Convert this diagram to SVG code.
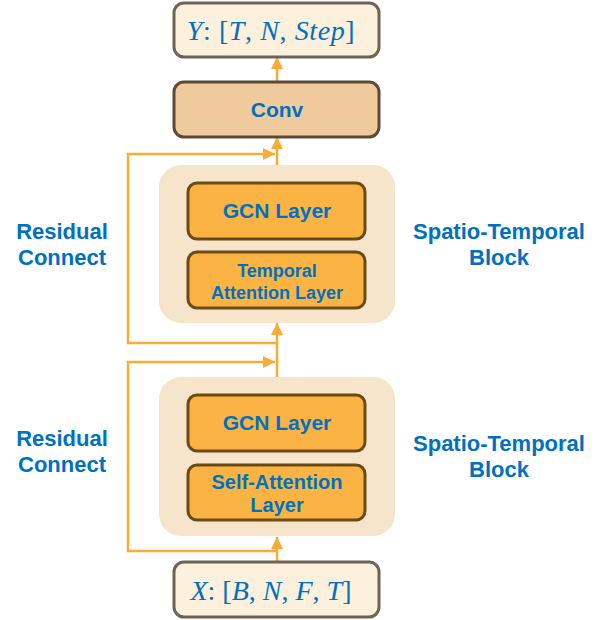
<svg xmlns="http://www.w3.org/2000/svg" width="604" height="620" viewBox="0 0 604 620">
<style>
.io{fill:#fdf0dc;stroke:#6e6456;stroke-width:3}
.conv{fill:#efca9c;stroke:#5d4a35;stroke-width:3}
.blk{fill:#f6e4cb;stroke:none}
.inner{fill:#fbb443;stroke:#6b4a16;stroke-width:3}
.lbl{font-family:"Liberation Sans",Arial,sans-serif;font-weight:bold;fill:#0070c0;text-anchor:middle}
.math{font-family:"Liberation Serif","Times New Roman",serif;fill:#0070c0;font-size:28px;text-anchor:middle}
.math .i{font-style:italic}
.con{fill:none;stroke:#f9ab36;stroke-width:2.5}
</style>
<defs>
<marker id="ah" markerUnits="userSpaceOnUse" markerWidth="12" markerHeight="12" viewBox="0 0 12 12" refX="12" refY="6" orient="auto">
<path d="M0,0 L12,6 L0,12 Z" fill="#f9ab36"/>
</marker>
</defs>
<g id="connectors">
<line class="con" x1="277" y1="562" x2="277" y2="537" marker-end="url(#ah)"/>
<polyline class="con" points="277,551 128,551 128,362 275,362" marker-end="url(#ah)"/>
<line class="con" x1="277" y1="377" x2="277" y2="323" marker-end="url(#ah)"/>
<polyline class="con" points="277,343 128,343 128,154 275,154" marker-end="url(#ah)"/>
<line class="con" x1="277" y1="165" x2="277" y2="137" marker-end="url(#ah)"/>
<line class="con" x1="277" y1="82" x2="277" y2="57" marker-end="url(#ah)"/>
</g>
<g id="output">
<rect class="io" x="174" y="3" width="205" height="54" rx="10"/>
<text class="math" x="271" y="40" letter-spacing="0.6"><tspan class="i">Y</tspan>: [<tspan class="i">T</tspan>, <tspan class="i">N</tspan>, <tspan class="i">Step</tspan>]</text>
</g>
<g id="conv">
<rect class="conv" x="174" y="82" width="205" height="55" rx="10"/>
<text class="lbl" x="277" y="117" font-size="21">Conv</text>
</g>
<g id="block2">
<rect class="blk" x="159" y="165" width="236" height="158" rx="22"/>
</g>
<g id="gcn2">
<rect class="inner" x="188" y="183" width="177" height="56" rx="9"/>
<text class="lbl" x="277" y="218" font-size="21">GCN Layer</text>
</g>
<g id="temporal">
<rect class="inner" x="188" y="252" width="177" height="56" rx="9"/>
<text class="lbl" x="277" y="277" font-size="18">Temporal</text>
<text class="lbl" x="277" y="299" font-size="18">Attention Layer</text>
</g>
<g id="block1">
<rect class="blk" x="159" y="377" width="236" height="159" rx="22"/>
</g>
<g id="gcn1">
<rect class="inner" x="188" y="395" width="177" height="56" rx="9"/>
<text class="lbl" x="277" y="430" font-size="21">GCN Layer</text>
</g>
<g id="selfatt">
<rect class="inner" x="188" y="465" width="177" height="55" rx="9"/>
<text class="lbl" x="277" y="489" font-size="20">Self-Attention</text>
<text class="lbl" x="277" y="512" font-size="20">Layer</text>
</g>
<g id="input">
<rect class="io" x="174" y="562" width="205" height="55" rx="10"/>
<text class="math" x="271" y="600"><tspan class="i">X</tspan>: [<tspan class="i">B</tspan>, <tspan class="i">N</tspan>, <tspan class="i">F</tspan>, <tspan class="i">T</tspan>]</text>
</g>
<g id="labels">
<text class="lbl" x="62" y="239" font-size="22">Residual</text>
<text class="lbl" x="62" y="265" font-size="22">Connect</text>
<text class="lbl" x="62" y="446" font-size="22">Residual</text>
<text class="lbl" x="62" y="472" font-size="22">Connect</text>
<text class="lbl" x="499" y="239" font-size="22">Spatio-Temporal</text>
<text class="lbl" x="499" y="265" font-size="22">Block</text>
<text class="lbl" x="499" y="451" font-size="22">Spatio-Temporal</text>
<text class="lbl" x="499" y="477" font-size="22">Block</text>
</g>
</svg>
